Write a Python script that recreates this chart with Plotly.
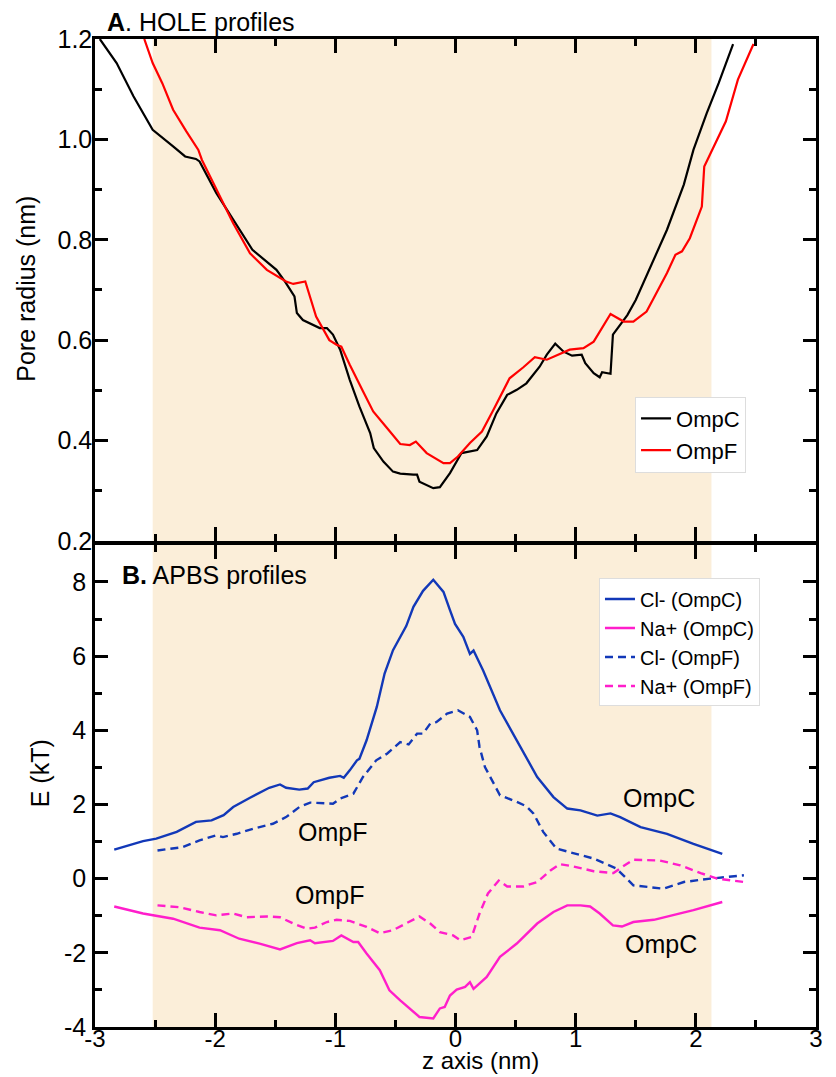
import plotly.graph_objects as go

# ---------------- data ----------------
# Panel A: HOLE pore radius profiles (nm)
z_hole_ompc = [-2.96, -2.82, -2.68, -2.52, -2.35, -2.25, -2.16, -2.13, -1.99, -1.85, -1.69, -1.49, -1.42,
               -1.34, -1.32, -1.27, -1.13, -1.07, -1.02, -0.96, -0.88, -0.80, -0.71, -0.68, -0.60, -0.52,
               -0.46, -0.35, -0.32, -0.30, -0.185, -0.13, -0.046, 0.05, 0.18, 0.26, 0.34, 0.43, 0.51, 0.59,
               0.70, 0.76, 0.83, 0.90, 0.97, 1.05, 1.08, 1.15, 1.20, 1.22, 1.29, 1.31, 1.43, 1.50, 1.62,
               1.76, 1.90, 1.98, 2.09, 2.19, 2.31]
r_hole_ompc = [1.2, 1.152, 1.086, 1.019, 0.986, 0.966, 0.961, 0.956, 0.893, 0.84, 0.78, 0.74, 0.717,
               0.687, 0.654, 0.64, 0.624, 0.624, 0.611, 0.581, 0.521, 0.468, 0.415, 0.385, 0.358, 0.338,
               0.334, 0.332, 0.332, 0.318, 0.305, 0.307, 0.335, 0.375, 0.381, 0.408, 0.454, 0.491, 0.501,
               0.514, 0.547, 0.571, 0.593, 0.577, 0.569, 0.571, 0.554, 0.534, 0.526, 0.536, 0.533, 0.611,
               0.650, 0.680, 0.745, 0.82, 0.91, 0.979, 1.052, 1.112, 1.19]

z_hole_ompf = [-2.59, -2.52, -2.44, -2.35, -2.24, -2.14, -2.11, -1.99, -1.85, -1.71, -1.57, -1.41, -1.35,
               -1.25, -1.16, -1.05, -0.99, -0.95, -0.88, -0.77, -0.685, -0.57, -0.46, -0.38, -0.33, -0.24,
               -0.10, -0.046, 0.02, 0.12, 0.22, 0.315, 0.45, 0.565, 0.66, 0.76, 0.95, 1.065, 1.15, 1.29,
               1.40, 1.48, 1.59, 1.65, 1.76, 1.83, 1.885, 1.95, 2.05, 2.07, 2.20, 2.25, 2.35, 2.48]
r_hole_ompf = [1.2, 1.152, 1.112, 1.059, 1.016, 0.979, 0.959, 0.9, 0.833, 0.773, 0.74, 0.717, 0.712,
               0.717, 0.647, 0.6, 0.591, 0.587, 0.551, 0.498, 0.458, 0.425, 0.393, 0.391, 0.398, 0.375,
               0.355, 0.355, 0.368, 0.395, 0.418, 0.461, 0.524, 0.546, 0.566, 0.561, 0.581, 0.584, 0.597,
               0.652, 0.637, 0.637, 0.657, 0.684, 0.734, 0.77, 0.777, 0.803, 0.866, 0.946, 1.009, 1.036,
               1.119, 1.19]

# Panel B: APBS energy profiles (kT)
z_cl_ompc = [-2.84, -2.60, -2.49, -2.32, -2.16, -2.03, -1.93, -1.85, -1.71, -1.55, -1.46, -1.41, -1.30,
             -1.23, -1.18, -1.05, -0.96, -0.93, -0.88, -0.82, -0.80, -0.74, -0.655, -0.59, -0.52, -0.46,
             -0.41, -0.35, -0.27, -0.185, -0.14, -0.10, -0.046, -0.004, 0.065, 0.12, 0.15, 0.23, 0.37,
             0.51, 0.68, 0.815, 0.93, 1.04, 1.18, 1.29, 1.37, 1.54, 1.76, 1.98, 2.22]
e_cl_ompc = [0.78, 1.01, 1.08, 1.26, 1.53, 1.57, 1.71, 1.93, 2.18, 2.45, 2.54, 2.45, 2.40, 2.43, 2.60,
             2.72, 2.77, 2.72, 2.92, 3.19, 3.23, 3.73, 4.63, 5.53, 6.16, 6.52, 6.81, 7.33, 7.76, 8.06,
             7.87, 7.73, 7.24, 6.87, 6.52, 6.06, 6.15, 5.61, 4.54, 3.73, 2.74, 2.20, 1.89, 1.84, 1.70,
             1.76, 1.66, 1.39, 1.21, 0.94, 0.67]

z_na_ompc = [-2.84, -2.60, -2.35, -2.13, -1.96, -1.80, -1.63, -1.46, -1.32, -1.21, -1.17, -1.02, -0.95,
             -0.85, -0.81, -0.74, -0.63, -0.55, -0.46, -0.38, -0.30, -0.185, -0.13, -0.09, -0.046, 0.01,
             0.08, 0.12, 0.15, 0.26, 0.37, 0.51, 0.68, 0.815, 0.93, 1.04, 1.12, 1.20, 1.31, 1.385, 1.48,
             1.65, 1.815, 1.98, 2.22]
e_na_ompc = [-0.75, -0.94, -1.08, -1.32, -1.39, -1.62, -1.75, -1.91, -1.74, -1.66, -1.74, -1.68, -1.53,
             -1.71, -1.71, -2.02, -2.47, -3.01, -3.28, -3.50, -3.73, -3.77, -3.50, -3.46, -3.15, -2.99,
             -2.92, -2.79, -2.97, -2.65, -2.11, -1.75, -1.21, -0.90, -0.72, -0.72, -0.75, -0.94, -1.26,
             -1.29, -1.17, -1.11, -0.99, -0.85, -0.63]

z_cl_ompf = [-2.48, -2.27, -2.13, -1.99, -1.935, -1.82, -1.68, -1.52, -1.41, -1.30, -1.21, -1.02, -0.96,
             -0.85, -0.77, -0.66, -0.57, -0.46, -0.39, -0.32, -0.27, -0.21, -0.16, -0.07, 0.02, 0.12,
             0.18, 0.20, 0.245, 0.315, 0.37, 0.51, 0.59, 0.65, 0.73, 0.84, 0.98, 1.15, 1.34, 1.48, 1.73,
             1.90, 2.12, 2.40]
e_cl_ompf = [0.76, 0.85, 1.03, 1.17, 1.12, 1.21, 1.35, 1.48, 1.66, 1.93, 2.05, 2.02, 2.16, 2.29, 2.74,
             3.19, 3.37, 3.68, 3.62, 3.91, 3.91, 4.18, 4.22, 4.45, 4.54, 4.36, 4.0, 3.55, 3.01, 2.56,
             2.25, 2.07, 1.95, 1.75, 1.26, 0.81, 0.69, 0.54, 0.27, -0.18, -0.27, -0.09, 0.0, 0.09]

z_na_ompf = [-2.48, -2.30, -2.13, -1.99, -1.85, -1.74, -1.57, -1.46, -1.35, -1.24, -1.17, -1.07, -0.99,
             -0.88, -0.74, -0.63, -0.52, -0.41, -0.30, -0.21, -0.13, -0.02, 0.04, 0.135, 0.20, 0.27,
             0.36, 0.43, 0.565, 0.68, 0.79, 0.87, 0.98, 1.15, 1.315, 1.385, 1.48, 1.70, 1.87, 2.04, 2.18,
             2.40]
e_na_ompf = [-0.72, -0.77, -0.90, -0.99, -0.94, -1.04, -1.02, -1.04, -1.21, -1.35, -1.32, -1.17, -1.11,
             -1.14, -1.30, -1.47, -1.39, -1.21, -1.02, -1.21, -1.44, -1.53, -1.66, -1.57, -0.94, -0.40,
             -0.05, -0.21, -0.21, -0.09, 0.22, 0.39, 0.33, 0.20, 0.15, 0.31, 0.51, 0.49, 0.36, 0.15, 0.0,
             -0.09]

membrane_region = [-2.52, 2.13]

# tick labels (plain hyphen minus as in the original)
x_tick_vals = [-3, -2, -1, 0, 1, 2, 3]
x_tick_text = ["-3", "-2", "-1", "0", "1", "2", "3"]
y1_tick_vals = [0.2, 0.4, 0.6, 0.8, 1.0, 1.2]
y1_tick_text = ["0.2", "0.4", "0.6", "0.8", "1.0", "1.2"]
y2_tick_vals = [-4, -2, 0, 2, 4, 6, 8]
y2_tick_text = ["-4", "-2", "0", "2", "4", "6", "8"]

# ---------------- styling ----------------
FONT = "Liberation Sans, Arial, sans-serif"
BLUE = "#1238b8"
MAGENTA = "#ff1ecb"
SHADE = "#fbeed9"
AX_W = 2.5

fig = go.Figure()

fig.add_trace(go.Scatter(x=z_hole_ompc, y=r_hole_ompc, mode="lines", name="OmpC",
                         line=dict(color="black", width=2.2), xaxis="x", yaxis="y", legend="legend"))
fig.add_trace(go.Scatter(x=z_hole_ompf, y=r_hole_ompf, mode="lines", name="OmpF",
                         line=dict(color="#ff0000", width=2.2), xaxis="x", yaxis="y", legend="legend"))

fig.add_trace(go.Scatter(x=z_cl_ompc, y=e_cl_ompc, mode="lines", name="Cl- (OmpC)",
                         line=dict(color=BLUE, width=2.4), xaxis="x2", yaxis="y2", legend="legend2"))
fig.add_trace(go.Scatter(x=z_na_ompc, y=e_na_ompc, mode="lines", name="Na+ (OmpC)",
                         line=dict(color=MAGENTA, width=2.4), xaxis="x2", yaxis="y2", legend="legend2"))
fig.add_trace(go.Scatter(x=z_cl_ompf, y=e_cl_ompf, mode="lines", name="Cl- (OmpF)",
                         line=dict(color=BLUE, width=2.4, dash="8px,5px"), xaxis="x2", yaxis="y2",
                         legend="legend2"))
fig.add_trace(go.Scatter(x=z_na_ompf, y=e_na_ompf, mode="lines", name="Na+ (OmpF)",
                         line=dict(color=MAGENTA, width=2.4, dash="8px,5px"), xaxis="x2", yaxis="y2",
                         legend="legend2"))

# shaded membrane region in both panels
for xr, yr in (("x", "y domain"), ("x2", "y2 domain")):
    fig.add_shape(type="rect", xref=xr, yref=yr, x0=membrane_region[0], x1=membrane_region[1],
                  y0=0, y1=1, fillcolor=SHADE, line=dict(width=0), layer="below")

common_x = dict(range=[-3, 3], tickmode="array", tickvals=x_tick_vals, ticktext=x_tick_text,
                ticks="inside", ticklen=14, tickwidth=AX_W,
                tickcolor="black", showline=True, linewidth=AX_W, linecolor="black", mirror="allticks",
                showgrid=False, zeroline=False,
                minor=dict(ticks="inside", ticklen=7, tickwidth=AX_W, tickcolor="black",
                           tickmode="linear", tick0=0, dtick=0.5, showgrid=False),
                tickfont=dict(family=FONT, size=24, color="black"))

common_y = dict(ticks="inside", ticklen=13, tickwidth=AX_W, tickcolor="black",
                showline=True, linewidth=AX_W, linecolor="black", mirror="allticks",
                showgrid=False, zeroline=False,
                tickfont=dict(family=FONT, size=25, color="black"))

fig.update_layout(
    width=836, height=1077,
    margin=dict(l=95, r=20, t=39, b=50),
    paper_bgcolor="white", plot_bgcolor="white",
    font=dict(family=FONT, color="black"),
    xaxis=dict(common_x, anchor="y", showticklabels=False),
    xaxis2=dict(common_x, anchor="y2", matches="x", ticklabelstandoff=-12),
    yaxis=dict(common_y, domain=[0.492, 1], range=[0.2, 1.2], anchor="x", ticklabelstandoff=-5,
               tickmode="array", tickvals=y1_tick_vals, ticktext=y1_tick_text,
               minor=dict(ticks="inside", ticklen=7, tickwidth=AX_W, tickcolor="black",
                          tickmode="linear", tick0=0.2, dtick=0.1, showgrid=False)),
    yaxis2=dict(common_y, domain=[0, 0.488], range=[-4, 9], anchor="x2", ticklabelstandoff=1,
                tickmode="array", tickvals=y2_tick_vals, ticktext=y2_tick_text,
                minor=dict(ticks="inside", ticklen=7, tickwidth=AX_W, tickcolor="black",
                           tickmode="linear", tick0=0, dtick=1, showgrid=False)),
    legend=dict(x=0.749, y=0.638, xanchor="left", yanchor="top", bgcolor="white",
                bordercolor="#dddddd", borderwidth=1, font=dict(family=FONT, size=22, color="black"),
                tracegroupgap=0),
    legend2=dict(x=0.699, y=0.454, xanchor="left", yanchor="top", bgcolor="white",
                 bordercolor="#dddddd", borderwidth=1, font=dict(family=FONT, size=20, color="black"),
                 tracegroupgap=0),
    showlegend=True,
)

ann_font = dict(family=FONT, size=25, color="black")
annotations = [
    dict(text="<b>A</b>. HOLE profiles", xref="paper", yref="paper", x=0.0139, y=1.017,
         xanchor="left", yanchor="middle", showarrow=False, font=ann_font),
    dict(text="<b>B.</b> APBS profiles", xref="paper", yref="paper", x=0.0347, y=0.4575,
         xanchor="left", yanchor="middle", showarrow=False, font=ann_font),
    dict(text="Pore radius (nm)", xref="paper", yref="paper", x=-0.096, y=0.747, textangle=-90,
         xanchor="center", yanchor="middle", showarrow=False, font=ann_font),
    dict(text="E (kT)", xref="paper", yref="paper", x=-0.076, y=0.257, textangle=-90,
         xanchor="center", yanchor="middle", showarrow=False, font=ann_font),
    dict(text="z axis (nm)", xref="paper", yref="paper", x=0.535, y=-0.0344, borderpad=0,
         xanchor="center", yanchor="middle", showarrow=False,
         font=dict(family=FONT, size=24, color="black")),
    dict(text="OmpC", xref="x2", yref="y2", x=1.69, y=2.18, showarrow=False, font=ann_font),
    dict(text="OmpF", xref="x2", yref="y2", x=-1.02, y=1.26, showarrow=False, font=ann_font),
    dict(text="OmpF", xref="x2", yref="y2", x=-1.05, y=-0.45, showarrow=False, font=ann_font),
    dict(text="OmpC", xref="x2", yref="y2", x=1.71, y=-1.77, showarrow=False, font=ann_font),
]
fig.update_layout(annotations=annotations)

fig.write_html("out.html")
